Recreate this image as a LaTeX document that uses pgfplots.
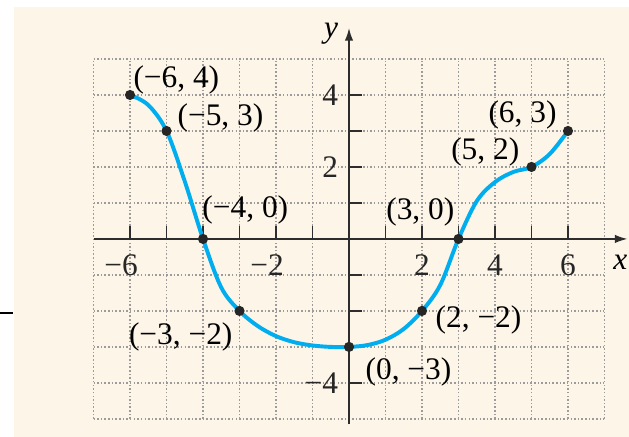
\documentclass[border=0pt]{standalone}
\usepackage{fontspec}
\setmainfont{Liberation Serif}
\usepackage{pgfplots}
\pgfplotsset{compat=1.18}
\usetikzlibrary{arrows.meta}
\definecolor{cream}{RGB}{253,245,232}
\definecolor{curvecyan}{RGB}{0,174,239}
\definecolor{gridgray}{RGB}{155,155,155}
\definecolor{axisgray}{RGB}{45,45,45}
\tikzset{gridline/.style={gridgray, line width=0.55pt, dash pattern=on 0.55pt off 0.75pt}}

\begin{document}
\fontsize{11.2}{13.4}\selectfont
\begin{tikzpicture}
\begin{axis}[
    set layers,
    at={(0pt,0pt)}, anchor=origin,
    x=13.03pt, y=12.85pt,
    axis lines=middle,
    xmin=-7, xmax=7.63, ymin=-5.15, ymax=5.86,
    clip=false,
    axis line style={axisgray, line width=0.55pt, -{Latex[length=4.5pt,width=3pt]}},
    tick align=inside,
    major tick length=4.6pt,
    tick style={axisgray, line width=0.55pt},
    xtick={-6,-5,-4,-3,-2,-1,1,2,3,4,5,6},
    xticklabels={\llap{−}6,,,,\llap{−}2,,,2,,4,,6},
    ytick={-4,-3,-2,-1,1,2,3,4},
    yticklabels={−4,,,,,2,,4},
    tick label style={text=black!85},
    x tick label style={anchor=north, yshift=-1.8pt},
    y tick label style={anchor=east},
]
\begin{pgfonlayer}{axis background}
    \fill[cream] (axis cs:-9.18,-6) rectangle (axis cs:8,6.444);
    \draw[black, line width=0.6pt] (axis cs:-9.7,-2.06) -- (axis cs:-9.205,-2.06);
\end{pgfonlayer}
\begin{pgfonlayer}{axis grid}
    \pgfplotsinvokeforeach{-7,...,7}{\draw[gridline] (axis cs:#1,-5) -- (axis cs:#1,5);}
    \pgfplotsinvokeforeach{-5,...,5}{\draw[gridline] (axis cs:-7,#1) -- (axis cs:7,#1);}
\end{pgfonlayer}

% curve every half unit
\addplot[curvecyan, line width=1.4pt, smooth, tension=0.55] coordinates {
    (-6,4) (-5.5,3.72) (-5,3) (-4.5,1.6) (-4,0) (-3.5,-1.35) (-3,-2)
    (-2.5,-2.42) (-2,-2.7) (-1.5,-2.87) (-1,-2.96) (-0.5,-3) (0,-3)
    (0.5,-2.95) (1,-2.8) (1.5,-2.5) (2,-2) (2.5,-1.28) (3,0)
    (3.5,1.05) (4,1.58) (4.5,1.86) (5,2) (5.5,2.36) (6,3)
};
\addplot[only marks, mark=*, mark size=1.6pt, black!85] coordinates {
    (-6,4) (-5,3) (-4,0) (-3,-2) (0,-3) (2,-2) (3,0) (5,2) (6,3)
};

\node[anchor=west, inner sep=0pt] at (axis cs:-5.92,4.42) {(−6, 4)};
\node[anchor=west, inner sep=0pt] at (axis cs:-4.71,3.36) {(−5, 3)};
\node[anchor=west, inner sep=0pt] at (axis cs:-4.03,0.81) {(−4, 0)};
\node[anchor=east, inner sep=0pt] at (axis cs:-3.18,-2.72) {(−3, −2)};
\node[anchor=west, inner sep=0pt] at (axis cs:0.44,-3.69) {(0, −3)};
\node[anchor=west, inner sep=0pt] at (axis cs:2.36,-2.25) {(2, −2)};
\node[anchor=east, inner sep=0pt] at (axis cs:2.90,0.75) {(3, 0)};
\node[anchor=east, inner sep=0pt] at (axis cs:4.68,2.42) {(5, 2)};
\node[anchor=east, inner sep=0pt] at (axis cs:5.70,3.44) {(6, 3)};

\node[inner sep=0pt] at (axis cs:-0.49,5.69) {\textit{y}};
\node[anchor=east, inner sep=0pt] at (axis cs:7.64,-0.64) {\textit{x}};
\end{axis}
\pgfresetboundingbox
\useasboundingbox (-124.6pt,-70.7pt) rectangle (99.96pt,85.3pt);
\end{tikzpicture}
\end{document}
